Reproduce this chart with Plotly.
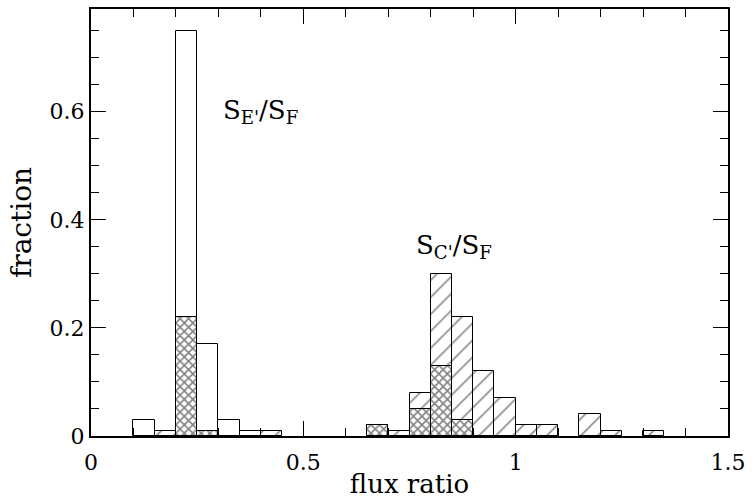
import plotly.graph_objects as go

# bin left edges (width 0.05) and fractions
bin_width = 0.05
open_edges = [0.10, 0.15, 0.20, 0.25, 0.30, 0.35]
open_vals = [0.03, 0.01, 0.75, 0.17, 0.03, 0.01]

hatch_edges = [0.15, 0.20, 0.40, 0.65, 0.70, 0.75, 0.80, 0.85, 0.90, 0.95,
               1.00, 1.05, 1.15, 1.20, 1.30]
hatch_vals = [0.01, 0.02, 0.01, 0.02, 0.01, 0.08, 0.30, 0.22, 0.12, 0.07,
              0.02, 0.02, 0.04, 0.01, 0.01]

cross_edges = [0.20, 0.25, 0.65, 0.75, 0.80, 0.85]
cross_vals = [0.22, 0.01, 0.02, 0.05, 0.13, 0.03]

x_ticks = [0, 0.5, 1, 1.5]
x_labels = ["0", "0.5", "1", "1.5"]
y_ticks = [0, 0.2, 0.4, 0.6]
y_labels = ["0", "0.2", "0.4", "0.6"]

FONT = "DejaVu Serif"
line = dict(color="black", width=1)

fig = go.Figure()
fig.add_trace(go.Bar(x=open_edges, y=open_vals, width=bin_width, offset=0,
                     marker=dict(color="white", line=line), name="E"))
fig.add_trace(go.Bar(x=hatch_edges, y=hatch_vals, width=bin_width, offset=0,
                     marker=dict(color="white", line=line,
                                 pattern=dict(shape="/", fgcolor="black", bgcolor="white",
                                              size=12, solidity=0.13, fillmode="overlay")),
                     name="C"))
fig.add_trace(go.Bar(x=cross_edges, y=cross_vals, width=bin_width, offset=0,
                     marker=dict(color="white", line=line,
                                 pattern=dict(shape="x", fgcolor="black", bgcolor="white",
                                              size=6, solidity=0.45, fillmode="overlay")),
                     name="X"))

axis_common = dict(showline=True, linecolor="black", linewidth=2, mirror="allticks",
                   ticks="inside", ticklen=15, tickwidth=1, tickcolor="black",
                   showgrid=False, zeroline=False,
                   tickfont=dict(family=FONT, size=22, color="black"))

fig.update_xaxes(range=[0, 1.5], tickvals=x_ticks, ticktext=x_labels,
                 ticklabelstandoff=6,
                 minor=dict(dtick=0.1, ticks="inside", ticklen=8, tickcolor="black", showgrid=False),
                 title=dict(text="flux ratio", font=dict(family=FONT, size=26, color="black"), standoff=0),
                 **axis_common)
fig.update_yaxes(range=[0, 0.79], tickvals=y_ticks, ticktext=y_labels,
                 minor=dict(dtick=0.05, ticks="inside", ticklen=8, tickcolor="black", showgrid=False),
                 title=dict(text="fraction", font=dict(family=FONT, size=28, color="black"), standoff=10),
                 **axis_common)

fig.add_annotation(x=0.40, y=0.60, xref="x", yref="y", showarrow=False,
                   text="S<sub>E'</sub>/S<sub>F</sub>",
                   font=dict(family=FONT, size=26, color="black"))
fig.add_annotation(x=0.855, y=0.35, xref="x", yref="y", showarrow=False,
                   text="S<sub>C'</sub>/S<sub>F</sub>",
                   font=dict(family=FONT, size=26, color="black"))

fig.update_layout(width=753, height=504, barmode="overlay", showlegend=False,
                  plot_bgcolor="white", paper_bgcolor="white",
                  margin=dict(l=91, r=19, t=7, b=68), bargap=0)

fig.write_html("out.html")
